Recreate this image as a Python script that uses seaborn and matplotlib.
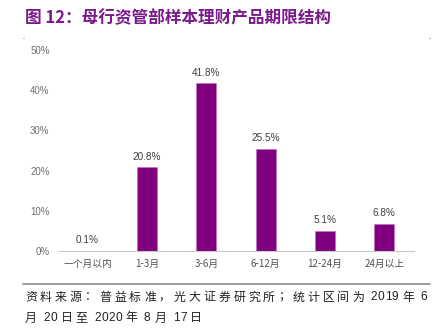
import matplotlib
matplotlib.use("Agg")
import matplotlib.pyplot as plt
import seaborn as sns
import pandas as pd
from matplotlib.ticker import FixedLocator

categories = ["一个月以内", "1-3月", "3-6月", "6-12月", "12-24月", "24月以上"]
shares = [0.1, 20.8, 41.8, 25.5, 5.1, 6.8]
y_ticks = [0, 10, 20, 30, 40, 50]
y_tick_labels = ["0%", "10%", "20%", "30%", "40%", "50%"]

title = "图 12：母行资管部样本理财产品期限结构"
note_line1 = "资料来源：普益标准，光大证券研究所；统计区间为 2019 年 6"
note_line2 = "月 20 日至 2020 年 8 月 17 日"

sns.set_theme(style="white")
plt.rcParams["font.family"] = ["Noto Sans CJK SC", "DejaVu Sans"]

df = pd.DataFrame({"term": categories, "share": shares})

W, H = 439, 333
fig = plt.figure(figsize=(W / 100, H / 100), dpi=100)
ax = fig.add_axes([0.132, 0.246, 0.811, 0.604])

sns.barplot(data=df, x="term", y="share", color="#800080", saturation=1,
            width=0.34, ax=ax, edgecolor="#c070c0", linewidth=0.4)

latin = ["Liberation Sans", "DejaVu Sans"]

# value labels above bars
for i, v in enumerate(df["share"]):
    ax.text(i, v + 1.3, f"{v:.1f}%", ha="center", va="bottom",
            fontsize=7.2, color="#404040", family=latin)

ax.set_ylim(0, 50)
ax.set_xlim(-0.5, len(categories) - 0.5)
ax.set_yticks(y_ticks)
ax.set_yticklabels(y_tick_labels, fontsize=7, color="#707070", family=latin)
ax.set_xticks(range(len(categories)))
ax.set_xticklabels(categories, fontsize=7, color="#505050")
ax.set_xlabel("")
ax.set_ylabel("")

for side in ["top", "right", "left"]:
    ax.spines[side].set_visible(False)
ax.spines["bottom"].set_color("#c8c8c8")
ax.spines["bottom"].set_linewidth(0.8)

ax.tick_params(axis="y", length=0, pad=6)
ax.tick_params(axis="x", which="major", length=0, pad=6)
ax.xaxis.set_minor_locator(FixedLocator([i - 0.5 for i in range(len(categories) + 1)]))
ax.tick_params(axis="x", which="minor", length=3, width=0.6, color="#c8c8c8",
               direction="out")

# header
fig.text(25 / W, 1 - 18 / H, title, fontsize=12, fontweight="bold", color="#7b1a8b",
         ha="left", va="center")
fig.text(0.052, 0.888, ".", fontsize=5, color="#333333", ha="left", va="center")
fig.text(0.975, 0.888, ".", fontsize=5, color="#333333", ha="left", va="center")

# footer rule and source note
fig.add_artist(plt.Line2D([0.052, 0.98], [1 - 284 / H, 1 - 284 / H],
                          color="#8c8c8c", linewidth=1.2))

renderer = fig.canvas.get_renderer()


def spaced_text(s, x_px, y_px, size, gap_px):
    """Write s one glyph at a time, with extra tracking after CJK glyphs."""
    x = x_px
    for ch in s:
        if ch == " ":
            x += size * 1.39 * 0.3
            continue
        is_cjk = ord(ch) > 0x2000
        t = fig.text(x / W, 1 - y_px / H, ch, fontsize=size, color="#222222",
                     ha="left", va="center",
                     family=None if is_cjk else latin + ["Noto Sans CJK SC"])
        w = t.get_window_extent(renderer).width
        x += w + (gap_px if is_cjk else 0.3)


spaced_text(note_line1, 25, 297, 8.6, 3.0)
spaced_text(note_line2, 25, 318, 8.6, 3.0)

fig.savefig("out.png", dpi=100)
